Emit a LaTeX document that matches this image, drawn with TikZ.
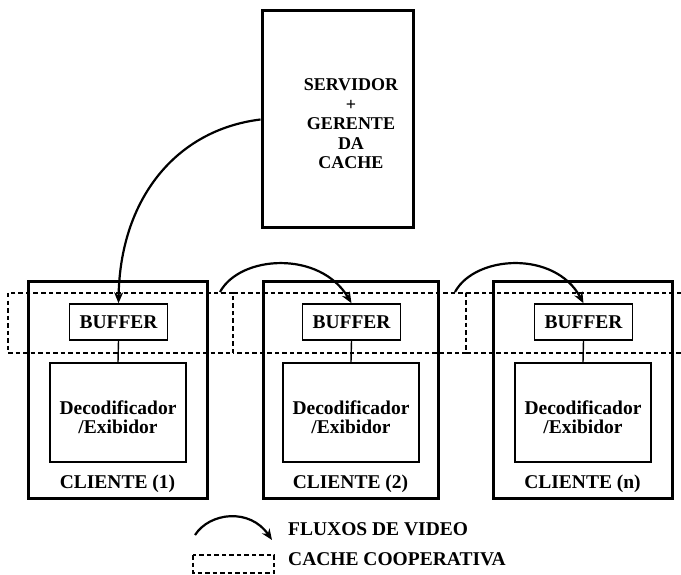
\documentclass[tikz,border=0pt]{standalone}
\usepackage{fontspec}
\setmainfont{Liberation Serif}
\usetikzlibrary{arrows.meta}

\begin{document}
\begin{tikzpicture}[x=1pt,y=-1pt,
  lbl/.style={font=\bfseries\fontsize{19.5}{18.5}\selectfont, inner sep=0pt, align=center},
  srvlbl/.style={font=\bfseries\fontsize{18}{19.5}\selectfont, inner sep=0pt, align=center},
  heavybox/.style={draw, line width=3pt, inner sep=0pt},
  lightbox/.style={draw, line width=1.5pt, inner sep=0pt},
  cacheline/.style={draw, dash pattern=on 4.5pt off 3pt, line width=1.8pt},
  flow/.style={line width=2.2pt, -{Stealth[length=11pt,width=9pt]}},
  link/.style={line width=1.4pt}]

\useasboundingbox (0,0) rectangle (681,575);

% server and cache manager
\node[heavybox, minimum width=151pt, minimum height=217pt] (srv) at (337.5,119.5) {};
\node[srvlbl] (srvtxt) at (351,124) {SERVIDOR\\+\\GERENTE\\DA\\CACHE};

% cooperative cache regions
\draw[cacheline] (8,293) rectangle (233,353);
\draw[cacheline] (233,293) -- (466,293) -- (466,353) -- (233,353);
\draw[cacheline] (681,293) -- (466,293) (466,353) -- (681,353);

% clients
\foreach \i/\cx/\w in {1/117.5/179, 2/350.5/175, 3/582.5/179}{
  \node[heavybox, minimum width=\w pt, minimum height=216pt] (cli\i) at (\cx,390) {};
  \node[lightbox, fill=white, minimum width=98pt, minimum height=36pt] (buf\i) at (\cx+1,322) {};
  \node[lbl] (buftxt\i) at (buf\i) {BUFFER};
  \node[lightbox, minimum width=136pt, minimum height=99pt] (dec\i) at (\cx+0.5,412.5) {};
  \node[lbl] (dectxt\i) at (\cx+0.5,417) {Decodificador\\/Exibidor};
  \draw[link] (buf\i.south) -- (dec\i.north);
}
\node[lbl, anchor=base] (clitxt1) at (117.5,488) {CLIENTE (1)};
\node[lbl, anchor=base] (clitxt2) at (350.5,488) {CLIENTE (2)};
\node[lbl, anchor=base] (clitxt3) at (582.5,488) {CLIENTE (n)};

% video flows
\coordinate (f2) at (220,292);
\coordinate (f3) at (455,292);
\draw[flow] (srv.west) .. controls (175,130) and (120,200) .. (buf1.north);
\draw[flow] (f2) .. controls (240,255) and (320,250) .. (buf2.north);
\draw[flow] (f3) .. controls (475,255) and (555,250) .. (buf3.north);

% legend
\coordinate (la) at (195,535);
\coordinate (lb) at (272,540);
\draw[flow] (la) .. controls (210,512) and (250,508) .. (lb);
\node[lbl, anchor=base west] (legflow) at (288,535) {FLUXOS DE VIDEO};
\draw[cacheline] (193,555) rectangle (274,573);
\node[lbl, anchor=base west] (legcache) at (288,565) {CACHE COOPERATIVA};
\end{tikzpicture}
\end{document}
